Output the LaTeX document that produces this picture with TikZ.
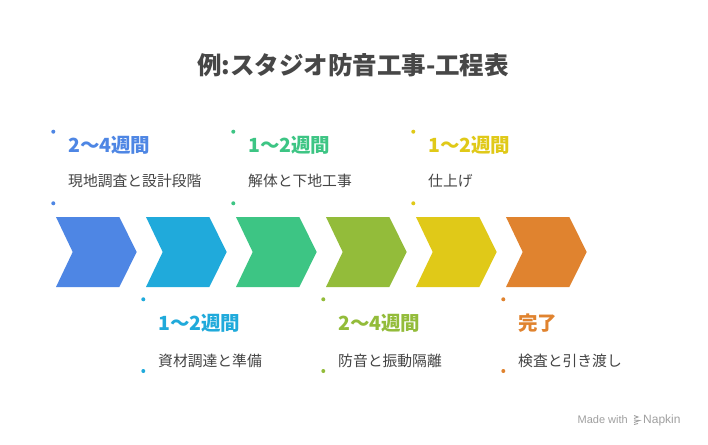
\documentclass[tikz,border=0pt]{standalone}
\usepackage{fontspec}
\setmainfont{Noto Sans CJK JP}
\newfontfamily\latinsans{Liberation Sans}
\definecolor{cA}{HTML}{4E86E4}
\definecolor{cB}{HTML}{20AADB}
\definecolor{cC}{HTML}{3DC584}
\definecolor{cD}{HTML}{93BC3A}
\definecolor{cE}{HTML}{E0C918}
\definecolor{cF}{HTML}{E0832F}
\definecolor{bodytxt}{HTML}{444444}
\definecolor{titletxt}{HTML}{474747}
\definecolor{marktxt}{HTML}{A0A0A0}
\tikzset{
  chev/.style={fill=#1, draw=none},
  headtxt/.style={anchor=west, inner sep=0pt, font=\fontsize{19.5}{22}\selectfont\bfseries, text=#1},
  bodylbl/.style={anchor=west, inner sep=0pt, font=\fontsize{14.8}{17}\selectfont, text=bodytxt},
  dotmark/.style={circle, fill=#1, inner sep=0pt, minimum size=4pt},
}
\begin{document}
\begin{tikzpicture}[x=1pt,y=-1pt]
\useasboundingbox (0,0) rectangle (708,444);
\fill[white] (0,0) rectangle (708,444);
\node[font=\fontsize{24.5}{28}\selectfont\bfseries, text=titletxt, inner sep=0pt] (title) at (353,65) {例:スタジオ防音工事-工程表};
% chevrons
\foreach \k/\c in {0/cA,1/cB,2/cC,3/cD,4/cE,5/cF}{
  \pgfmathsetmacro{\xo}{56+90*\k}
  \fill[chev=\c] (\xo,217) -- ++(63.3,0) -- ++(17.4,35) -- ++(-17.4,35) -- ++(-63.3,0) -- ++(16.7,-35) -- cycle;
}
% top labels
\foreach \k/\c/\h/\b/\n in {0/cA/2～4週間/現地調査と設計段階/a,2/cC/1～2週間/解体と下地工事/c,4/cE/1～2週間/仕上げ/e}{
  \pgfmathsetmacro{\xo}{90*\k}
  \node[dotmark=\c] (dt\n) at (53.3+\xo,131.7) {};
  \node[dotmark=\c] (db\n) at (53.3+\xo,203.3) {};
  \node[headtxt=\c] (h\n) at (68+\xo,145) {\h};
  \node[bodylbl] (b\n) at (68+\xo,180.5) {\b};
}
% bottom labels
\foreach \k/\c/\h/\b/\n in {1/cB/1～2週間/資材調達と準備/b,3/cD/2～4週間/防音と振動隔離/d,5/cF/完了/検査と引き渡し/f}{
  \pgfmathsetmacro{\xo}{90*\k}
  \node[dotmark=\c] (dt\n) at (53.3+\xo,299.3) {};
  \node[dotmark=\c] (db\n) at (53.3+\xo,371) {};
  \node[headtxt=\c] (h\n) at (68+\xo,323) {\h};
  \node[bodylbl] (b\n) at (68+\xo,360.5) {\b};
}
% watermark
\node[anchor=east, inner sep=0pt, font=\latinsans\fontsize{11}{12}\selectfont, text=marktxt] (made) at (628,420) {Made with};
\node[anchor=west, inner sep=0pt, font=\latinsans\fontsize{12}{13}\selectfont, text=marktxt] (napkin) at (643,420) {Napkin};
\draw[marktxt, line width=0.9pt] (634,415.5) -- (638,417) -- (634,418.5) (634,420) -- (639.5,420.5) -- (634,422.5) (634,424.5) -- (638,423.5);
\end{tikzpicture}
\end{document}
